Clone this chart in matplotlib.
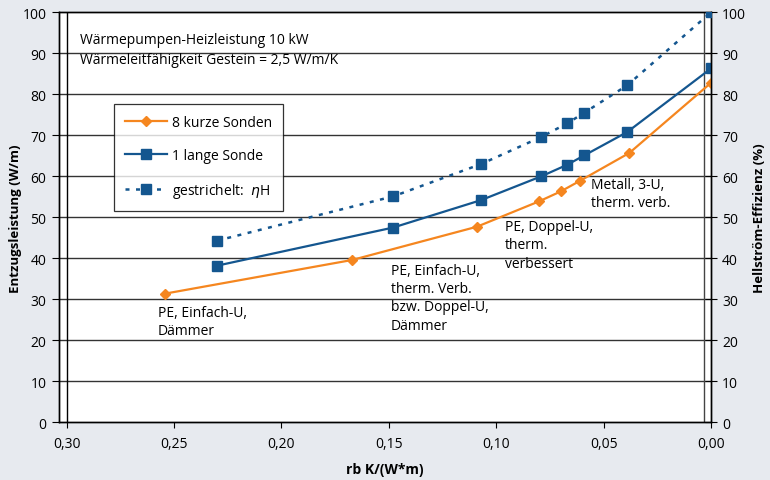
import numpy as np
import matplotlib.pyplot as plt
from matplotlib.lines import Line2D

plt.rcParams['font.family'] = ['Open Sans', 'DejaVu Sans']

# Data
x_kurz = [0.254, 0.167, 0.109, 0.080, 0.070, 0.061, 0.038, 0.000]
y_kurz = [31.4, 39.6, 47.7, 53.9, 56.3, 58.9, 65.7, 82.8]

x_lang = [0.230, 0.148, 0.107, 0.079, 0.067, 0.059, 0.039, 0.000]
y_lang = [38.2, 47.5, 54.2, 60.0, 62.8, 65.1, 70.8, 86.3]

x_eta = [0.230, 0.148, 0.107, 0.079, 0.067, 0.059, 0.039, 0.000]
y_eta = [44.3, 55.1, 63.0, 69.6, 72.9, 75.5, 82.2, 100.0]

x_ticks = [0.30, 0.25, 0.20, 0.15, 0.10, 0.05, 0.00]
y_ticks = [0, 10, 20, 30, 40, 50, 60, 70, 80, 90, 100]

bg = '#e7eaef'
orange = '#f5861f'
blue = '#14568f'

W, H = 770, 481
fig = plt.figure(figsize=(W / 100, H / 100), dpi=100, facecolor=bg)

# axes box in pixels: left spine 59, right spine 711, top 13, bottom 423
l, r, t, b = 59, 711, 13.3, 423.3
ax = fig.add_axes([l / W, 1 - b / H, (r - l) / W, (b - t) / H])
ax.set_facecolor('white')

px_per_unit = (711 - 66.7) / 0.30
ax.set_xlim(0.30 + (66.7 - 59) / px_per_unit, 0.0)
ax.set_ylim(0, 100)

# horizontal grid
for yv in y_ticks[1:-1]:
    ax.axhline(yv, color='#333333', lw=1.0, zorder=1)
# inner plot-area border lines
ax.axvline(0.30, color='black', lw=1.0, zorder=1)
ax.axvline(0.30 - (704 - 66.7) / px_per_unit, color='#444444', lw=1.0, zorder=1)

ax.plot(x_kurz, y_kurz, color=orange, lw=1.6, marker='D', ms=5,
        zorder=3, label='8 kurze Sonden')
ax.plot(x_lang, y_lang, color=blue, lw=1.6, marker='s', ms=7,
        zorder=3, label='1 lange Sonde')

ax2 = ax.twinx()
ax2.set_ylim(0, 100)
ax2.plot(x_eta, y_eta, color=blue, lw=1.8, ls=(0, (1.6, 2.6)),
         marker='s', ms=7, zorder=3)

for a in (ax, ax2):
    for s in a.spines.values():
        s.set_color('black')
        s.set_linewidth(1.0)

ax.set_xticks(x_ticks)
ax.set_xticklabels([f'{v:.2f}'.replace('.', ',') for v in x_ticks])
ax.set_yticks(y_ticks)
ax2.set_yticks(y_ticks)
ax.tick_params(axis='x', direction='out', length=4, labelsize=10, pad=6)
ax.tick_params(axis='y', direction='out', length=5, labelsize=10, pad=4)
ax2.tick_params(axis='y', direction='inout', length=8, labelsize=10, pad=4)

ax.set_xlabel('rb K/(W*m)', fontsize=10, fontweight='bold', labelpad=8)
ax.set_ylabel('Entzugsleistung (W/m)', fontsize=9.5, fontweight='bold', va='center')
ax2.set_ylabel('Hellström-Effizienz (%)', fontsize=9.5, fontweight='bold', va='center')
ax.yaxis.set_label_coords((15 - l) / (r - l), 0.5)
ax2.yaxis.set_label_coords((760 - l) / (r - l), 0.5)

# header text
ax.text(0.2938, 95.2, 'Wärmepumpen-Heizleistung 10 kW\nWärmeleitfähigkeit Gestein = 2,5 W/m/K',
        fontsize=10, va='top', ha='left', linespacing=1.45, zorder=4)

# point annotations
notes = [
    (0.2575, 28.6, 'PE, Einfach-U,\nDämmer'),
    (0.1490, 38.9, 'PE, Einfach-U,\ntherm. Verb.\nbzw. Doppel-U,\nDämmer'),
    (0.0959, 49.6, 'PE, Doppel-U,\ntherm.\nverbessert'),
    (0.0558, 59.8, 'Metall, 3-U,\ntherm. verb.'),
]
for xn, yn, txt in notes:
    ax.text(xn, yn, txt, fontsize=10, va='top', ha='left', linespacing=1.3, zorder=4)

handles = [
    Line2D([], [], color=orange, lw=1.6, marker='D', ms=5),
    Line2D([], [], color=blue, lw=1.6, marker='s', ms=7),
    Line2D([], [], color=blue, lw=1.8, ls=(0, (1.6, 2.6)), marker='s', ms=7),
]
labels = ['8 kurze Sonden', '1 lange Sonde', 'gestrichelt:  $\\eta$H']
leg = ax2.legend(handles, labels, loc='upper left',
                 bbox_to_anchor=(114 / W, 1 - 105 / H), bbox_transform=fig.transFigure,
                 fontsize=10, frameon=True, fancybox=False, edgecolor='black',
                 handlelength=3.0, handletextpad=0.35, labelspacing=1.3,
                 borderpad=0.8, borderaxespad=0)
leg.get_frame().set_linewidth(0.9)

fig.savefig('out.png', dpi=100, facecolor=bg)
